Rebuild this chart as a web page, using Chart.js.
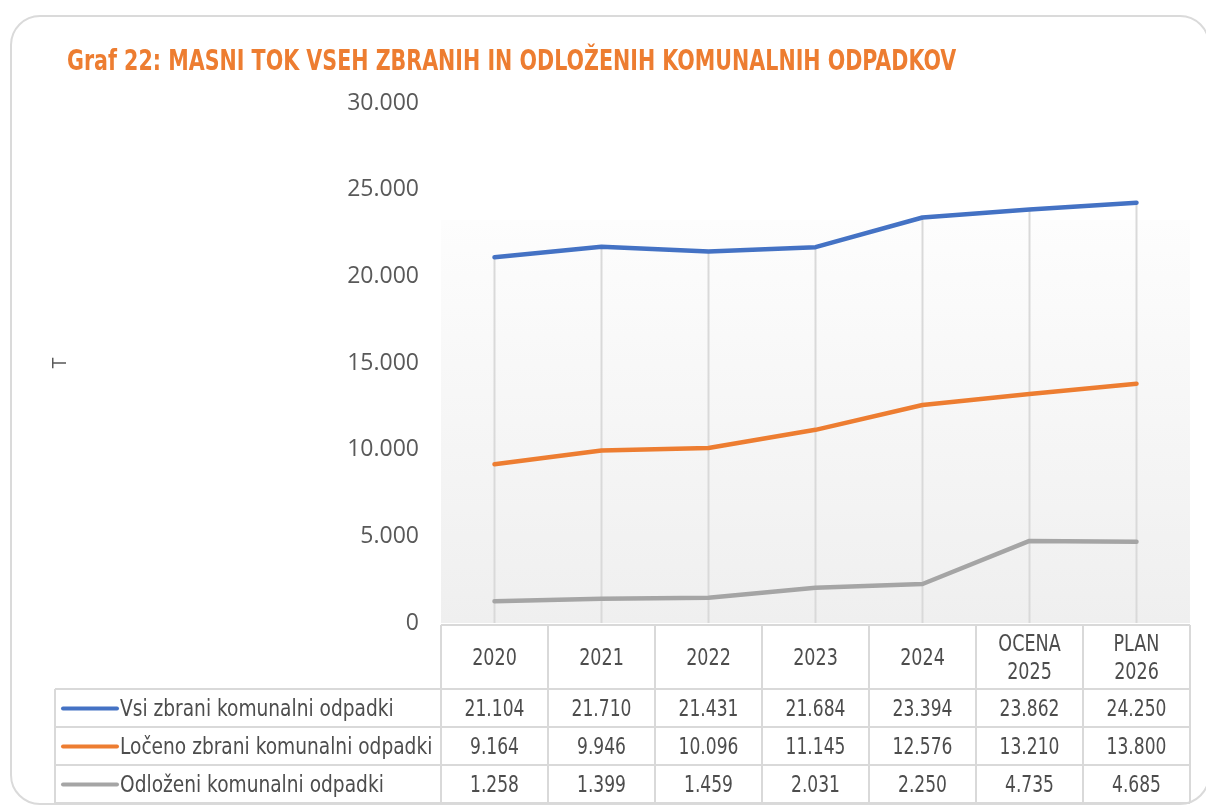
<!DOCTYPE html>
<html>
<head>
<meta charset="utf-8">
<script src="https://cdn.jsdelivr.net/npm/chart.js@4"></script>
<style>
  html, body { margin: 0; padding: 0; background: #fff; }
  #card {
    position: absolute; left: 10px; top: 15px; width: 1200px; height: 790px;
    border: 2px solid #dadada; border-radius: 30px; box-sizing: border-box;
  }
  #wrap { position: absolute; left: 0; top: 0; width: 1206px; height: 809px; }
</style>
</head>
<body>
<div id="card"></div>
<div id="wrap"><canvas id="chart"></canvas></div>
<script>
const chartTitle = 'Graf 22: MASNI TOK VSEH ZBRANIH IN ODLOŽENIH KOMUNALNIH ODPADKOV';
const categories = [['2020'], ['2021'], ['2022'], ['2023'], ['2024'], ['OCENA', '2025'], ['PLAN', '2026']];
const seriesNames = ['Vsi zbrani komunalni odpadki', 'Ločeno zbrani komunalni odpadki', 'Odloženi komunalni odpadki'];
const vsiZbrani = [21104, 21710, 21431, 21684, 23394, 23862, 24250];
const locenoZbrani = [9164, 9946, 10096, 11145, 12576, 13210, 13800];
const odlozeni = [1258, 1399, 1459, 2031, 2250, 4735, 4685];
const yTicks = [0, 5000, 10000, 15000, 20000, 25000, 30000];

const colors = ['#4472C4', '#ED7D31', '#A5A5A5'];
const allSeries = [vsiZbrani, locenoZbrani, odlozeni];
const narrow = '"DejaVu Sans Condensed", "Liberation Sans Narrow", sans-serif';
const textColor = '#4d4d4d';
const lineColor = '#d9d9d9';

// 21104 -> "21.104"
function fmt(v) {
    return String(v).replace(/\B(?=(\d{3})+(?!\d))/g, '.');
}

// squeezed text, to get closer to the narrow font of the original
function narrowText(ctx, text, x, y, sx) {
    ctx.save();
    ctx.translate(x, y);
    ctx.scale(sx, 1);
    ctx.fillText(text, 0, 0);
    ctx.restore();
}

const tablePlugin = {
    id: 'dataTable',
    beforeDatasetsDraw(chart) {
        const {ctx, chartArea: a, scales: {x, y}} = chart;
        // plot background
        const bgTop = a.top + (a.bottom - a.top) * 0.225;
        const g = ctx.createLinearGradient(0, bgTop, 0, a.bottom);
        g.addColorStop(0, '#fdfdfd');
        g.addColorStop(1, '#efefef');
        ctx.save();
        ctx.fillStyle = g;
        ctx.fillRect(a.left, bgTop, a.right - a.left, a.bottom - bgTop);
        // drop lines from the highest point down
        ctx.strokeStyle = lineColor;
        ctx.lineWidth = 2;
        categories.forEach((c, i) => {
            const px = x.getPixelForValue(i);
            const top = y.getPixelForValue(Math.max(...allSeries.map(s => s[i])));
            ctx.beginPath();
            ctx.moveTo(px, top);
            ctx.lineTo(px, a.bottom);
            ctx.stroke();
        });
        ctx.restore();
    },
    afterDraw(chart) {
        const {ctx, chartArea: a, scales: {x}} = chart;
        const colW = x.getPixelForValue(1) - x.getPixelForValue(0);
        const headTop = a.bottom + 2;
        const headBottom = x.bottom;
        const rowH = 38;
        const legLeft = 55;
        const tableBottom = headBottom + rowH * allSeries.length;

        ctx.save();
        // title
        ctx.fillStyle = '#ED7D31';
        ctx.font = 'bold 29px ' + narrow;
        ctx.textAlign = 'left';
        ctx.textBaseline = 'alphabetic';
        narrowText(ctx, chartTitle, 67, 70, 0.79);

        // grid of the data table
        ctx.strokeStyle = lineColor;
        ctx.lineWidth = 2;
        ctx.beginPath();
        ctx.moveTo(a.left, headTop);
        ctx.lineTo(a.right, headTop);
        for (let r = 0; r <= allSeries.length; r++) {
            const yy = headBottom + r * rowH;
            ctx.moveTo(legLeft, yy);
            ctx.lineTo(a.right, yy);
        }
        for (let i = 0; i <= categories.length; i++) {
            const xx = x.getPixelForValue(0) - colW / 2 + i * colW;
            ctx.moveTo(xx, headTop);
            ctx.lineTo(xx, tableBottom);
        }
        ctx.moveTo(legLeft, headBottom);
        ctx.lineTo(legLeft, tableBottom);
        ctx.stroke();

        ctx.font = '23.5px ' + narrow;
        ctx.textBaseline = 'middle';
        ctx.fillStyle = textColor;
        ctx.textAlign = 'center';
        // header row: category labels
        const headMid = (headTop + headBottom) / 2 + 1.5;
        categories.forEach((lines, i) => {
            lines.forEach((t, k) => {
                const cy = headMid + (k - (lines.length - 1) / 2) * 28;
                narrowText(ctx, t, x.getPixelForValue(i), cy, 0.83);
            });
        });

        allSeries.forEach((s, r) => {
            const cy = headBottom + r * rowH + rowH / 2 + 1.5;
            // legend key
            ctx.strokeStyle = colors[r];
            ctx.lineWidth = 4;
            ctx.lineCap = 'round';
            ctx.beginPath();
            ctx.moveTo(legLeft + 8, cy - 1);
            ctx.lineTo(legLeft + 62, cy - 1);
            ctx.stroke();
            ctx.textAlign = 'left';
            narrowText(ctx, seriesNames[r], legLeft + 65, cy, 0.88);
            ctx.textAlign = 'center';
            s.forEach((v, i) => narrowText(ctx, fmt(v), x.getPixelForValue(i), cy, 0.81));
        });
        ctx.restore();
    }
};

const datasets = allSeries.map((s, i) => ({
    label: seriesNames[i],
    data: s,
    borderColor: colors[i],
    backgroundColor: colors[i],
    borderWidth: 4.5,
    pointRadius: 0,
    borderCapStyle: 'round',
    borderJoinStyle: 'round',
    tension: 0
}));

new Chart(document.getElementById('chart'), {
    type: 'line',
    data: {labels: categories, datasets: datasets},
    plugins: [tablePlugin],
    options: {
        responsive: true,
        maintainAspectRatio: false,
        animation: false,
        layout: {padding: {top: 103, left: 67, right: 16, bottom: 120}},
        plugins: {
            legend: {display: false},
            tooltip: {enabled: false},
            title: {display: false}
        },
        scales: {
            x: {
                offset: true,
                grid: {display: false},
                border: {display: false},
                ticks: {display: false},
                afterFit(scale) { scale.height = 66; }
            },
            y: {
                min: 0,
                max: 30000,
                afterBuildTicks(scale) { scale.ticks = yTicks.map(v => ({value: v})); },
                grid: {display: false, drawTicks: false},
                border: {display: false},
                ticks: {
                    color: '#595959',
                    font: {family: '"Open Sans", sans-serif', size: 23},
                    padding: 22,
                    callback: v => fmt(v)
                },
                title: {
                    display: true,
                    text: 'T',
                    color: '#595959',
                    font: {family: '"Open Sans", sans-serif', size: 20},
                    padding: {top: -19, bottom: 0}
                },
                afterFit(scale) { scale.width = 374; }
            }
        }
    }
});
</script>
</body>
</html>
